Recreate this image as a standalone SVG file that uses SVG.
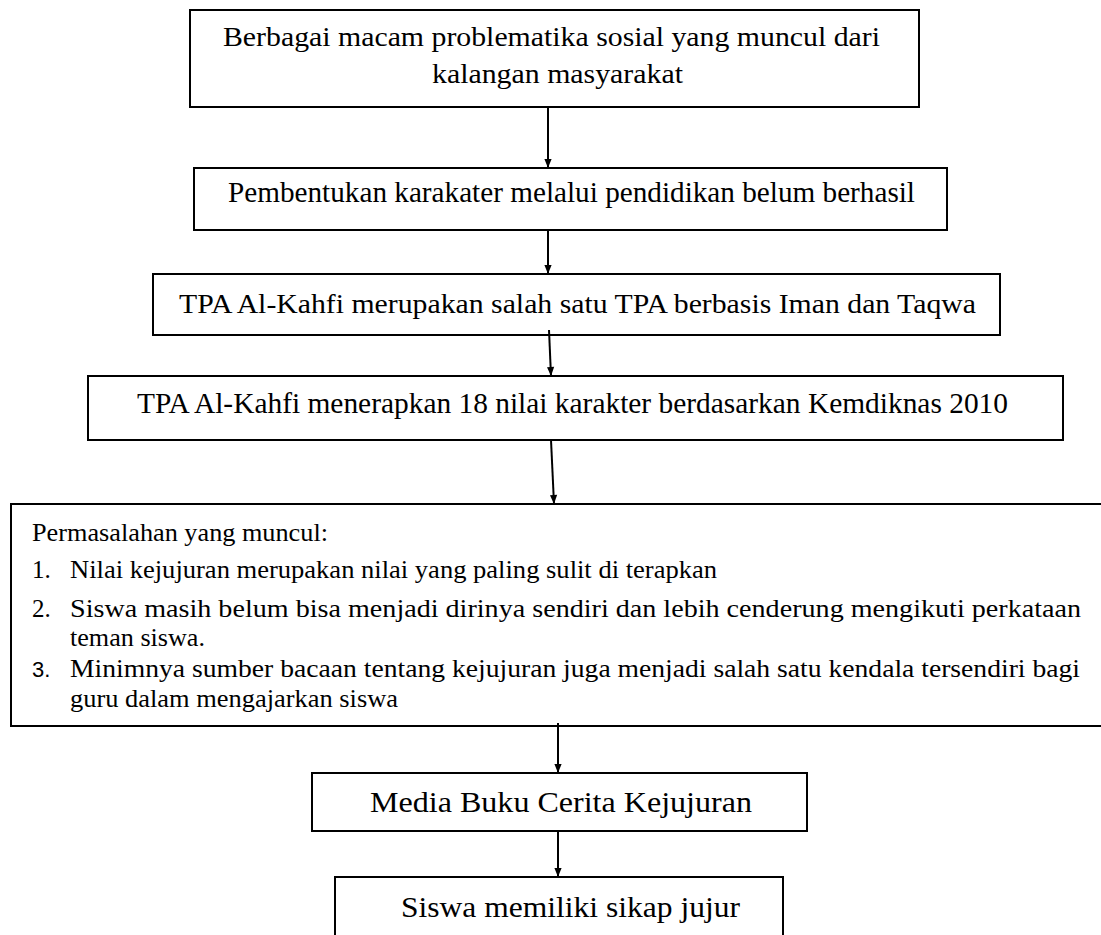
<svg xmlns="http://www.w3.org/2000/svg" width="1101" height="935" viewBox="0 0 1101 935">
<style>
.box{fill:#fff;stroke:#000;stroke-width:2}
.t{font-family:'Liberation Serif','Times New Roman',serif;fill:#000}
.s{font-family:'Liberation Sans',Arial,sans-serif;fill:#000}
.c{stroke:#000;stroke-width:2;fill:none;marker-end:url(#ah)}
</style>
<defs>
<marker id="ah" viewBox="0 0 10 10" refX="10" refY="5" markerWidth="11" markerHeight="9" markerUnits="userSpaceOnUse" orient="auto">
<path d="M0,1 L10,5 L0,9 Z" fill="#000"/>
</marker>
</defs>
<rect width="1101" height="935" fill="#fff"/>
<g id="n1">
<rect class="box" x="190" y="10" width="729" height="97"/>
<text class="t" font-family="Liberation Serif" font-size="28" x="223" y="46" textLength="657" lengthAdjust="spacingAndGlyphs">Berbagai macam problematika sosial yang muncul dari</text>
<text class="t" font-family="Liberation Serif" font-size="28" x="432" y="83" textLength="251" lengthAdjust="spacingAndGlyphs">kalangan masyarakat</text>
</g>
<g id="n2">
<rect class="box" x="194" y="168" width="753" height="62"/>
<text class="t" font-family="Liberation Serif" font-size="29" x="228" y="202" textLength="687" lengthAdjust="spacingAndGlyphs">Pembentukan karakater melalui pendidikan belum berhasil</text>
</g>
<g id="n3">
<rect class="box" x="153" y="274" width="847" height="61"/>
<text class="t" font-family="Liberation Serif" font-size="27" x="179" y="313" textLength="797" lengthAdjust="spacingAndGlyphs">TPA Al-Kahfi merupakan salah satu TPA berbasis Iman dan Taqwa</text>
</g>
<g id="n4">
<rect class="box" x="88" y="376" width="975" height="64"/>
<text class="t" font-family="Liberation Serif" font-size="30" x="137" y="413" textLength="871" lengthAdjust="spacingAndGlyphs">TPA Al-Kahfi menerapkan 18 nilai karakter berdasarkan Kemdiknas 2010</text>
</g>
<g id="n5">
<rect class="box" x="11" y="504" width="1100" height="222"/>
<text class="t" font-family="Liberation Serif" font-size="25" x="32" y="541" textLength="296" lengthAdjust="spacingAndGlyphs">Permasalahan yang muncul:</text>
<text class="t" font-family="Liberation Serif" font-size="25" x="32" y="578">1.</text>
<text class="t" font-family="Liberation Serif" font-size="25" x="70" y="578" textLength="647" lengthAdjust="spacingAndGlyphs">Nilai kejujuran merupakan nilai yang paling sulit di terapkan</text>
<text class="t" font-family="Liberation Serif" font-size="25" x="32" y="617">2.</text>
<text class="t" font-family="Liberation Serif" font-size="25" x="70" y="617" textLength="1011" lengthAdjust="spacingAndGlyphs">Siswa masih belum bisa menjadi dirinya sendiri dan lebih cenderung mengikuti perkataan</text>
<text class="t" font-family="Liberation Serif" font-size="25" x="70" y="646" textLength="135" lengthAdjust="spacingAndGlyphs">teman siswa.</text>
<text class="s" font-family="Liberation Sans" font-size="22" x="32" y="677">3.</text>
<text class="t" font-family="Liberation Serif" font-size="25" x="70" y="677" textLength="1010" lengthAdjust="spacingAndGlyphs">Minimnya sumber bacaan tentang kejujuran juga menjadi salah satu kendala tersendiri bagi</text>
<text class="t" font-family="Liberation Serif" font-size="25" x="70" y="707" textLength="328" lengthAdjust="spacingAndGlyphs">guru dalam mengajarkan siswa</text>
</g>
<g id="n6">
<rect class="box" x="312" y="773" width="495" height="58"/>
<text class="t" font-family="Liberation Serif" font-size="30" x="370" y="812" textLength="382" lengthAdjust="spacingAndGlyphs">Media Buku Cerita Kejujuran</text>
</g>
<g id="n7">
<rect class="box" x="335" y="877" width="448" height="70"/>
<text class="t" font-family="Liberation Serif" font-size="30" x="401" y="917" textLength="339" lengthAdjust="spacingAndGlyphs">Siswa memiliki sikap jujur</text>
</g>
<g id="connectors">
<line class="c" x1="548" y1="107" x2="548" y2="168"/>
<line class="c" x1="548" y1="230" x2="548" y2="274"/>
<line class="c" x1="549" y1="330" x2="551" y2="376"/>
<line class="c" x1="551" y1="440" x2="554" y2="504"/>
<line class="c" x1="558" y1="723" x2="558" y2="773"/>
<line class="c" x1="558" y1="831" x2="558" y2="877"/>
</g>
</svg>
